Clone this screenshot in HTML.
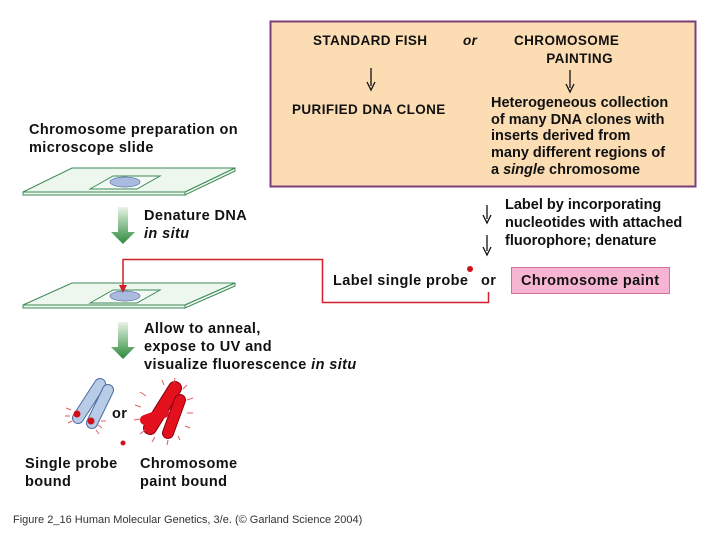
<!DOCTYPE html>
<html><head><style>
body{margin:0;width:720px;height:540px;background:#fff;overflow:hidden;position:relative;font-family:"Liberation Sans",Arial,sans-serif;}
.t{position:absolute;font-size:14.5px;line-height:18px;color:#111;white-space:nowrap;letter-spacing:0.4px;font-weight:bold}
.s{font-size:13.5px}
</style></head><body>
<svg width="720" height="540" style="position:absolute;left:0;top:0">
<defs>
<linearGradient id="g" x1="0" y1="0" x2="0" y2="1"><stop offset="0" stop-color="#e8f3e8"/><stop offset="1" stop-color="#2c8a3a"/></linearGradient>
</defs>
<rect x="270.5" y="21.5" width="425" height="165" fill="#fbdcb3" stroke="#7a3e78" stroke-width="2"/>
<g stroke="#111" stroke-width="1.3">
<line x1="371" y1="68" x2="371" y2="86"/><path d="M367,82 L371,90 L375,82" fill="none"/>
<line x1="570" y1="70" x2="570" y2="88"/><path d="M566,84 L570,92 L574,84" fill="none"/>
<line x1="487" y1="205" x2="487" y2="219"/><path d="M483,215 L487,223 L491,215" fill="none"/>
<line x1="487" y1="235" x2="487" y2="251"/><path d="M483,247 L487,255 L491,247" fill="none"/>
</g>
<rect x="511.5" y="267.5" width="158" height="26" fill="#f7b5d3" stroke="#d0709a"/>
<path d="M123,259.5 H322.5 V302.5 H488.5 V292" fill="none" stroke="#d0202a" stroke-width="1.5"/>
<circle cx="470" cy="269" r="3" fill="#d0101a"/>
<circle cx="123" cy="443" r="2.5" fill="#d0101a"/>
<g fill="#eef7ee" stroke="#3d8a58" stroke-width="1">
<path d="M23,192 L72,168 L235,168 L185,192z"/><path d="M23,192 L185,192 L185,195 L23,195z"/><path d="M185,192 L235,168 L235,171 L185,195z"/>
<path d="M90,189 L113,176 L160,176 L137,189z" fill="#f4faf4"/>
<path d="M23,305 L72,283 L235,283 L185,305z"/><path d="M23,305 L185,305 L185,308 L23,308z"/><path d="M185,305 L235,283 L235,286 L185,308z"/>
<path d="M90,303 L113,290 L160,290 L137,303z" fill="#f4faf4"/>
</g>
<ellipse cx="125" cy="182" rx="15" ry="5" fill="#a9bce0" stroke="#5a6fa8" stroke-width="0.7"/>
<ellipse cx="125" cy="296" rx="15" ry="5" fill="#a9bce0" stroke="#5a6fa8" stroke-width="0.7"/>
<line x1="123" y1="259" x2="123" y2="288" stroke="#d0202a" stroke-width="1.5"/>
<path d="M119,285 L123,293 L127,285z" fill="#d0202a"/>
<path d="M118,207 H128 V232 H135 L123,244 L111,232 H118z" fill="url(#g)"/>
<path d="M118,322 H128 V347 H135 L123,359 L111,347 H118z" fill="url(#g)"/>
<g stroke-linecap="round">
<line x1="78" y1="418" x2="100" y2="384" stroke="#4a6aa0" stroke-width="12"/>
<line x1="78" y1="418" x2="100" y2="384" stroke="#b8cce8" stroke-width="10"/>
<line x1="92" y1="423" x2="108" y2="390" stroke="#4a6aa0" stroke-width="12"/>
<line x1="92" y1="423" x2="108" y2="390" stroke="#b8cce8" stroke-width="10"/>
</g>
<circle cx="77" cy="414" r="3.5" fill="#d0101a"/><circle cx="91" cy="421" r="3.5" fill="#d0101a"/>
<g stroke-linecap="round">
<line x1="150" y1="428" x2="175" y2="388" stroke="#8a0010" stroke-width="14"/>
<line x1="150" y1="428" x2="175" y2="388" stroke="#e3101e" stroke-width="12"/>
<line x1="168" y1="433" x2="180" y2="400" stroke="#8a0010" stroke-width="12"/>
<line x1="168" y1="433" x2="180" y2="400" stroke="#e3101e" stroke-width="10"/>
<line x1="145" y1="420" x2="164" y2="413" stroke="#e3101e" stroke-width="10"/>
</g>
<g stroke="#e06060" stroke-width="1">
<line x1="140" y1="392" x2="146" y2="396"/><line x1="135" y1="405" x2="141" y2="407"/><line x1="134" y1="420" x2="140" y2="419"/><line x1="140" y1="434" x2="145" y2="430"/><line x1="152" y1="442" x2="155" y2="437"/><line x1="167" y1="445" x2="168" y2="440"/><line x1="180" y1="440" x2="178" y2="436"/><line x1="190" y1="428" x2="185" y2="426"/><line x1="193" y1="413" x2="187" y2="413"/><line x1="193" y1="398" x2="187" y2="400"/><line x1="187" y1="385" x2="183" y2="389"/><line x1="175" y1="378" x2="174" y2="383"/><line x1="162" y1="380" x2="164" y2="385"/>
<line x1="66" y1="408" x2="71" y2="410"/><line x1="65" y1="416" x2="70" y2="416"/><line x1="68" y1="423" x2="72" y2="421"/><line x1="102" y1="428" x2="98" y2="425"/><line x1="99" y1="434" x2="96" y2="430"/><line x1="106" y1="421" x2="101" y2="421"/>
</g>
</svg>
<div class="t s" style="left:313px;top:32px">STANDARD FISH</div>
<div class="t s" style="left:463px;top:32px"><i>or</i></div>
<div class="t s" style="left:514px;top:32px;text-align:center">CHROMOSOME<br><span style="padding-left:26px">PAINTING</span></div>
<div class="t s" style="left:292px;top:101px">PURIFIED DNA CLONE</div>
<div class="t" style="left:491px;top:95px;line-height:16.7px;letter-spacing:0">Heterogeneous collection<br>of many DNA clones with<br>inserts derived from<br>many different regions of<br>a <i>single</i> chromosome</div>
<div class="t" style="left:505px;top:196px;letter-spacing:0">Label by incorporating<br>nucleotides with attached<br>fluorophore; denature</div>
<div class="t" style="left:333px;top:272px">Label single probe</div>
<div class="t" style="left:481px;top:272px">or</div>
<div class="t" style="left:521px;top:272px">Chromosome paint</div>
<div class="t" style="left:29px;top:121px">Chromosome preparation on<br>microscope slide</div>
<div class="t" style="left:144px;top:207px">Denature DNA<br><i>in situ</i></div>
<div class="t" style="left:144px;top:320px">Allow to anneal,<br>expose to UV and<br>visualize fluorescence <i>in situ</i></div>
<div class="t" style="left:112px;top:405px">or</div>
<div class="t" style="left:25px;top:455px">Single probe<br>bound</div>
<div class="t" style="left:140px;top:455px">Chromosome<br>paint bound</div>
<div class="t" style="left:13px;top:511px;font-size:11px;color:#333;letter-spacing:0;font-weight:normal">Figure 2_16  Human Molecular Genetics, 3/e.  (© Garland Science 2004)</div>
</body></html>
